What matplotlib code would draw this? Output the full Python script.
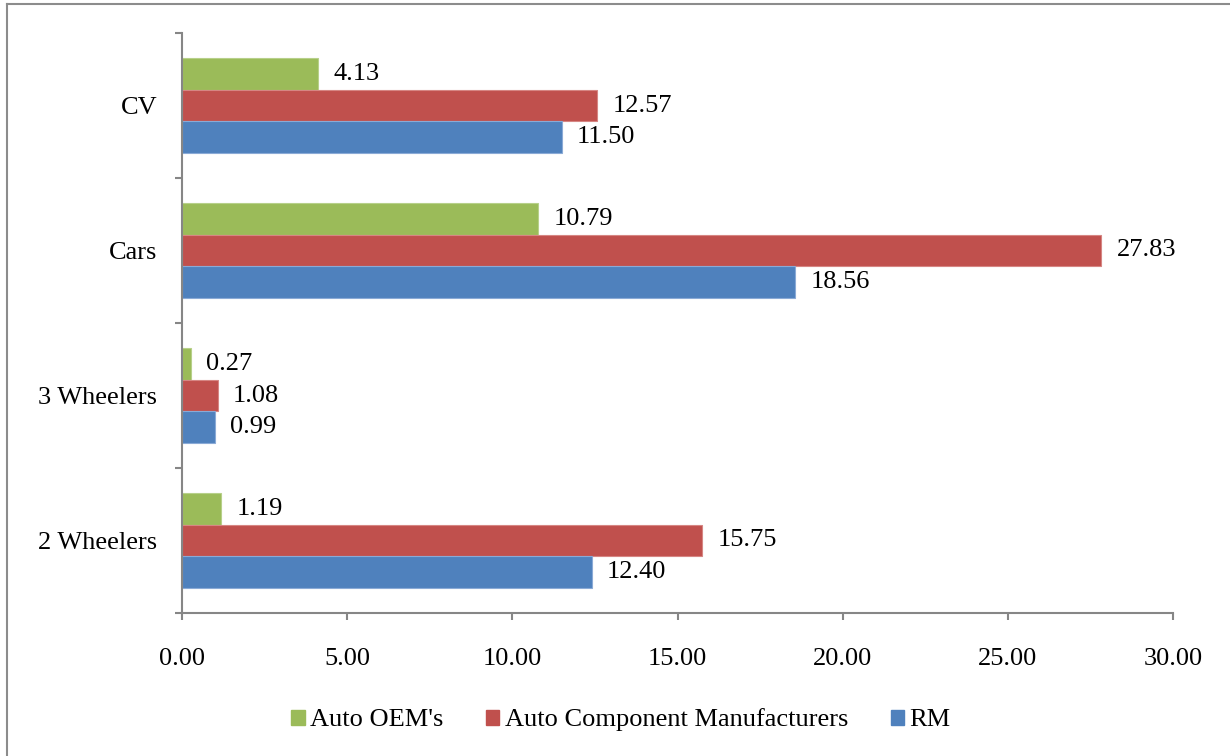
import matplotlib
matplotlib.use("Agg")
import matplotlib.pyplot as plt
from matplotlib.lines import Line2D
from matplotlib.patches import Patch
import numpy as np

categories = ["2 Wheelers", "3 Wheelers", "Cars", "CV"]
series_names = ["Auto OEM's", "Auto Component Manufacturers", "RM"]
auto_oem = [1.19, 0.27, 10.79, 4.13]
auto_comp = [15.75, 1.08, 27.83, 12.57]
rm = [12.40, 0.99, 18.56, 11.50]
x_ticks = [0, 5, 10, 15, 20, 25, 30]

colors = ["#9BBB59", "#C0504D", "#4F81BD"]
edges = ["#B7D08A", "#D68683", "#8AAAD6"]

plt.rcParams["font.family"] = ["Liberation Serif", "DejaVu Serif"]
FS = 19

fig = plt.figure(figsize=(12.3, 7.56), dpi=100)
ax = fig.add_axes([182 / 1230, 1 - 613 / 756, (1173 - 182) / 1230, (613 - 33) / 756])

y = np.arange(len(categories))
h = 0.22
offsets = [h, 0.0, -h]
for vals, off, c, ec, name in zip([auto_oem, auto_comp, rm], offsets, colors, edges, series_names):
    bars = ax.barh(y + off, vals, height=h, color=c, edgecolor=ec, linewidth=0.8, label=name)
    for b, v in zip(bars, vals):
        ax.annotate(f"{v:.2f}", (v, b.get_y() + b.get_height() / 2),
                    xytext=(11, 0), textcoords="offset points",
                    ha="left", va="center", fontsize=FS)

ax.set_xlim(0, 30)
ax.set_ylim(-0.5, len(categories) - 0.5)
ax.set_xticks(x_ticks)
ax.set_xticklabels([f"{t:.2f}" for t in x_ticks], fontsize=FS)
ax.set_yticks(np.arange(-0.5, len(categories)), labels=[""] * (len(categories) + 1))
ax.set_yticks(y, labels=categories, minor=True)

grey = "#868686"
for s in ["top", "right"]:
    ax.spines[s].set_visible(False)
for s in ["left", "bottom"]:
    ax.spines[s].set_color(grey)
    ax.spines[s].set_linewidth(1.5)
ax.tick_params(axis="x", which="major", direction="out", length=5, width=1.5, color=grey, pad=20)
ax.tick_params(axis="y", which="major", direction="out", length=5, width=1.5, color=grey)
ax.tick_params(axis="y", which="minor", length=0, pad=18, labelsize=FS)

handles = [Patch(facecolor=c, edgecolor=c) for c in colors]
fig.legend(handles, series_names, loc="center", bbox_to_anchor=(621 / 1230, 1 - 720 / 756),
           ncol=3, frameon=False, fontsize=FS, handlelength=0.5, handleheight=0.5,
           handletextpad=0.22, columnspacing=1.6)

# outer frame lines
fig.add_artist(Line2D([7 / 1230, 7 / 1230], [0, 1 - 4 / 756], color="#8C8C8C", lw=1.5))
fig.add_artist(Line2D([7 / 1230, 1], [1 - 4 / 756, 1 - 4 / 756], color="#8C8C8C", lw=1.5))

fig.savefig("out.png", dpi=100)
